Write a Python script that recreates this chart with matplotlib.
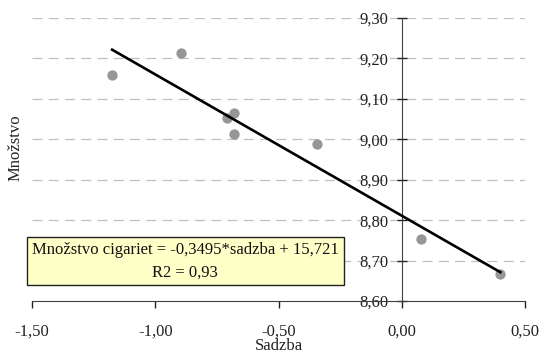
import matplotlib
matplotlib.use("Agg")
import matplotlib.pyplot as plt

plt.rcParams['font.family'] = ['Liberation Serif', 'DejaVu Serif']

# data
sadzba = [-1.177, -0.897, -0.708, -0.679, -0.679, -0.344, 0.077, 0.400]
mnozstvo = [9.159, 9.213, 9.053, 9.064, 9.012, 8.988, 8.753, 8.666]

slope = -0.3495
intercept = 8.811
line_x = [-1.175, 0.400]
line_y = [intercept + slope * x for x in line_x]

x_ticks = [-1.5, -1.0, -0.5, 0.0, 0.5]
y_ticks = [8.6, 8.7, 8.8, 8.9, 9.0, 9.1, 9.2, 9.3]

rovnica = "Množstvo cigariet = -0,3495*sadzba + 15,721\nR2 = 0,93"

fig = plt.figure(figsize=(5.43, 3.51), dpi=100)
ax = fig.add_axes([32 / 543, 1 - 301 / 351, 493 / 543, 283 / 351])

# grid
for y in y_ticks[1:]:
    ax.axhline(y, color="#c0c0c0", lw=0.9, ls=(0, (8, 5)), zorder=0)

ax.scatter(sadzba, mnozstvo, s=55, color="#969696", zorder=3, linewidths=0)
ax.plot(line_x, line_y, color="black", lw=1.9, zorder=4)

ax.set_xlim(-1.5, 0.5)
ax.set_ylim(8.6, 9.3)

ax.spines['right'].set_visible(False)
ax.spines['top'].set_visible(False)
ax.spines['left'].set_position(('data', 0))
ax.spines['left'].set_color("#404040")
ax.spines['bottom'].set_color("#404040")

ax.set_xticks(x_ticks)
ax.set_xticklabels([f"{v:.2f}".replace(".", ",") for v in x_ticks])
ax.set_yticks(y_ticks)
ax.set_yticklabels([f"{v:.2f}".replace(".", ",") for v in y_ticks])
ax.tick_params(axis='x', direction='out', length=5, width=1, pad=11,
               labelsize=12, colors="#222222")
ax.tick_params(axis='y', direction='inout', length=7, width=1, pad=6,
               labelsize=12, colors="#222222")

ax.set_xlabel("Sadzba", fontsize=12, color="#222222", labelpad=-1)
fig.text(16 / 543, 1 - 148 / 351, "Množstvo", rotation=90, fontsize=12,
         color="#222222", ha="center", va="center")

ax.text(0.311, 0.1396, rovnica, transform=ax.transAxes, ha="center",
        va="center", fontsize=12, color="#111111", linespacing=1.5,
        multialignment="center", zorder=5,
        bbox=dict(boxstyle="square,pad=0.3", fc="#ffffc8", ec="#222222", lw=1))

fig.savefig("out.png", dpi=100)
